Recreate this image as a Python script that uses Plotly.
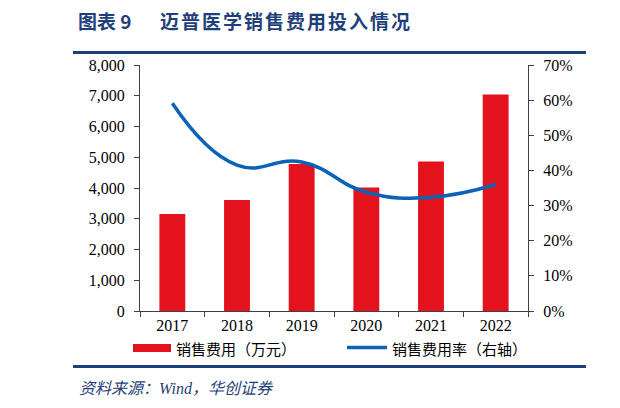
import plotly.graph_objects as go

years = ['2017', '2018', '2019', '2020', '2021', '2022']
sales_cost = [3155, 3610, 4780, 4020, 4865, 7040]   # 销售费用（万元）
cost_rate = [0.591, 0.415, 0.424, 0.338, 0.324, 0.360]  # 销售费用率（右轴）

title_no = '图表 9'
title_text = '迈普医学销售费用投入情况'
legend_names = ['销售费用（万元）', '销售费用率（右轴）']
source_text = '资料来源：Wind，华创证券'

# the page body adds an 8px margin, so the figure is drawn 8px smaller
OFF = 8
W, H = 620 - OFF, 408 - OFF
L, R, T, B = 140 - OFF, 92, 65 - OFF, 97
pw, ph = W - L - R, H - T - B

# helpers take window pixel positions
def px(x):
    return (x - OFF - L) / pw

def py(y):
    return (H - B - (y - OFF)) / ph

red = '#E3121C'
blue = '#0B63B6'
navy = '#1F3F7A'
serif = 'Times New Roman, Liberation Serif, serif'
cjk = 'Noto Sans CJK SC, sans-serif'

fig = go.Figure()
fig.add_trace(go.Bar(x=years, y=sales_cost, name=legend_names[0],
                     marker=dict(color=red, line=dict(width=0)), width=0.4))
fig.add_trace(go.Scatter(x=years, y=cost_rate, name=legend_names[1], yaxis='y2',
                         mode='lines', line=dict(color=blue, width=3.5, shape='spline', smoothing=1.3)))

axis_common = dict(showgrid=False, zeroline=False, showline=True, linecolor='#404040', linewidth=1,
                   ticks='outside', ticklen=5, tickcolor='#404040',
                   tickfont=dict(family=serif, size=16, color='#000'))

fig.update_layout(
    width=W, height=H, autosize=False,
    margin=dict(l=L, r=R, t=T, b=B),
    paper_bgcolor='white', plot_bgcolor='white',
    showlegend=False,
    xaxis=dict(**axis_common, tickson='boundaries', type='category'),
    yaxis=dict(**axis_common, range=[0, 8000], dtick=1000, tickformat=',', ticklabelstandoff=6),
    yaxis2=dict(**axis_common, range=[0, 0.7], dtick=0.1, tickformat='.0%', overlaying='y', side='right',
                ticklabelstandoff=6),
)

# legend drawn by hand to match the wide swatches
fig.add_shape(type='rect', xref='paper', yref='paper', x0=px(133), x1=px(171), y0=py(352), y1=py(344),
              fillcolor=red, line=dict(width=0))
fig.add_shape(type='line', xref='paper', yref='paper', x0=px(347), x1=px(387), y0=py(347.5), y1=py(347.5),
              line=dict(color=blue, width=3.5))


def bar_box(x0, x1, yc, h):
    # filled strip given in window pixels, drawn as an empty boxed annotation
    fig.add_annotation(text='\u00a0', xref='paper', yref='paper', x=px(x0), y=py(yc),
                       xanchor='left', yanchor='middle', showarrow=False,
                       width=x1 - x0, height=h, bgcolor=navy, borderpad=0, borderwidth=0,
                       font=dict(size=1, color=navy))


# rules above and below the chart
for yy in (52.7, 366.7):
    bar_box(73, 586, yy, 2.5)
    bar_box(615, 620, yy, 2.5)
# clipped edge of the neighbouring panel
bar_box(615, 620, 37.5, 1.5)
bar_box(617.5, 620, 10.5, 5)

fig.add_annotation(text=legend_names[0], xref='paper', yref='paper', x=px(173.5), y=py(348.5),
                   xanchor='left', yanchor='middle', showarrow=False, font=dict(family=cjk, size=15, color='#000'))
fig.add_annotation(text=legend_names[1], xref='paper', yref='paper', x=px(390), y=py(348.5),
                   xanchor='left', yanchor='middle', showarrow=False, font=dict(family=cjk, size=15, color='#000'))

# title and source
fig.add_annotation(text='<b>' + title_no + '</b>', xref='paper', yref='paper', x=px(76), y=py(20.5),
                   xanchor='left', yanchor='middle', showarrow=False, font=dict(family=cjk, size=19, color=navy))
fig.add_annotation(text='<b><span style="letter-spacing:2px">' + title_text + '</span></b>',
                   xref='paper', yref='paper', x=px(158), y=py(20.5),
                   xanchor='left', yanchor='middle', showarrow=False, font=dict(family=cjk, size=19, color=navy))
fig.add_annotation(text='<i>' + source_text + '</i>', xref='paper', yref='paper', x=px(77), y=py(388),
                   xanchor='left', yanchor='middle', showarrow=False, font=dict(family=serif + ', ' + cjk, size=16, color=navy))

fig.write_html('out.html')
